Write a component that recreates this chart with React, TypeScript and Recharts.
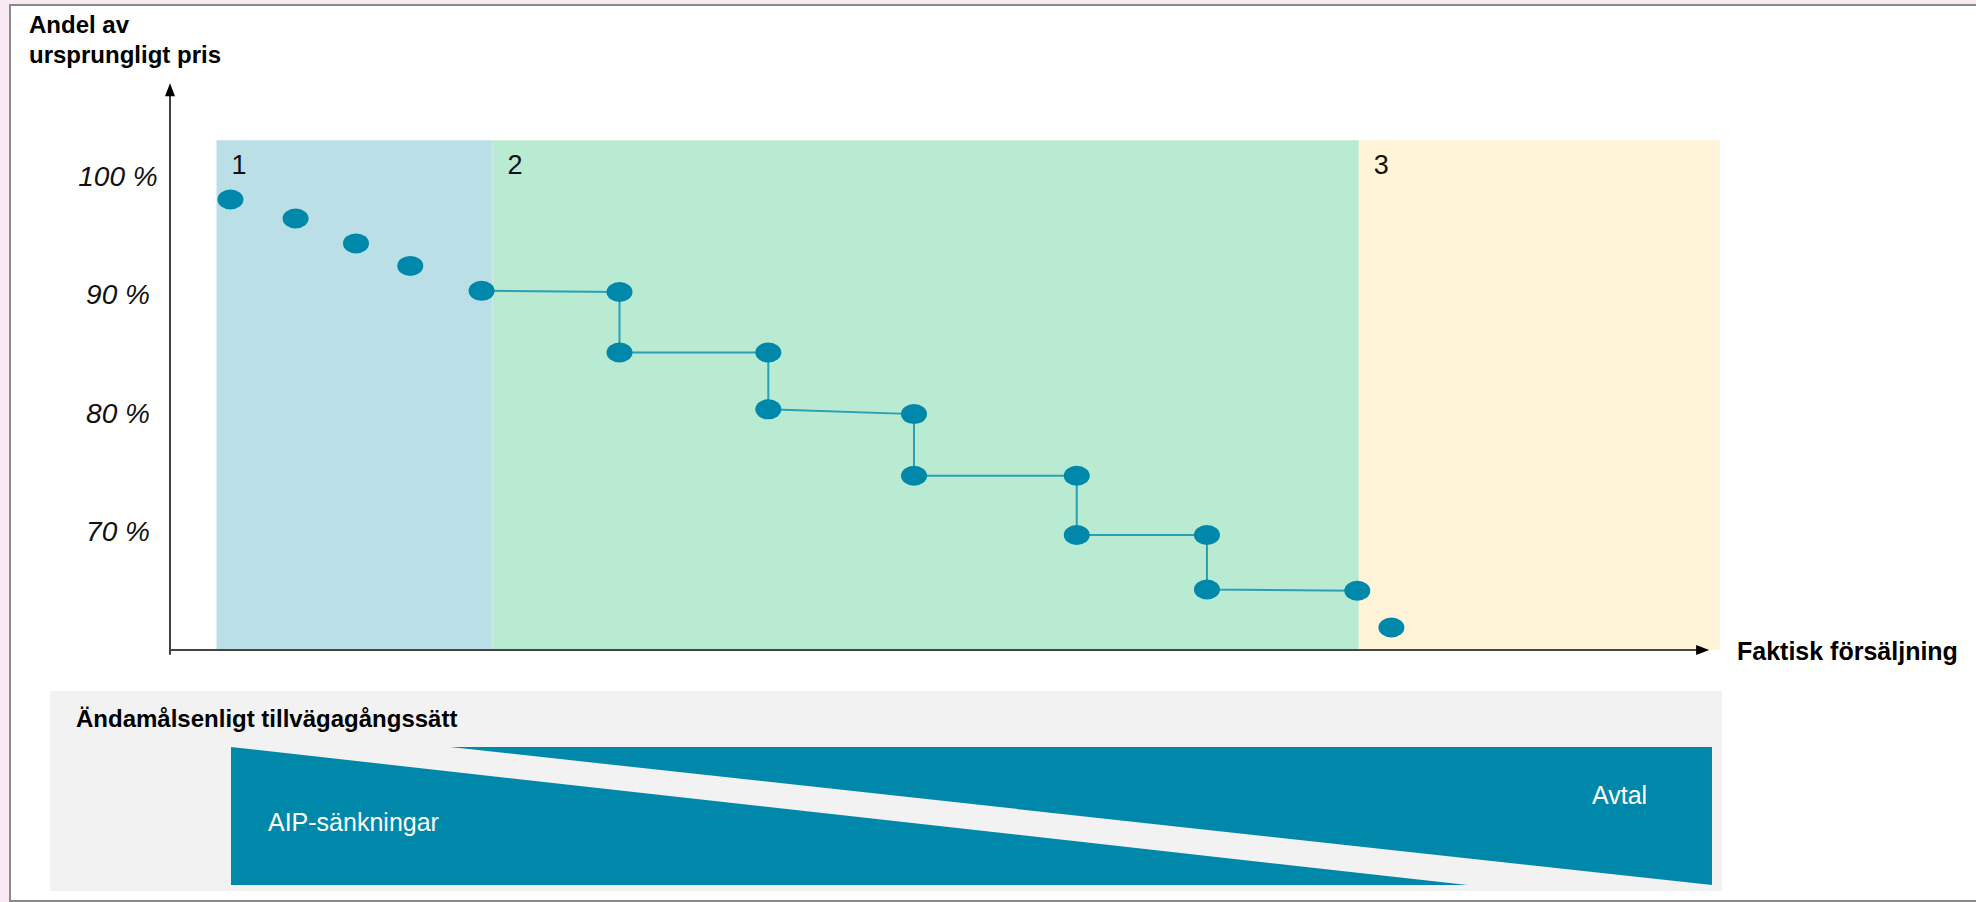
import React from 'react';
import {
  ComposedChart,
  Scatter,
  Line,
  Area,
  XAxis,
  YAxis,
  ReferenceArea,
  ReferenceLine,
  ReferenceDot,
} from 'recharts';

// Price as share of the original price (%) against actual sales (0–100 units)
const phaseNames = ['1', '2', '3'];
const phaseStart = [3.0, 20.8, 76.7];
const phaseEnd = [20.8, 76.7, 100];
const phaseTop = 103;

const yTicks = [70, 80, 90, 100];

// single price cuts before the stepped phase
const earlyDots = [
  { x: 3.9, y: 98.0 },
  { x: 8.1, y: 96.4 },
  { x: 12.0, y: 94.3 },
  { x: 15.5, y: 92.4 },
];

// stepped price path
const stepDots = [
  { x: 20.1, y: 90.3 },
  { x: 29.0, y: 90.2 },
  { x: 29.0, y: 85.1 },
  { x: 38.6, y: 85.1 },
  { x: 38.6, y: 80.3 },
  { x: 48.0, y: 79.9 },
  { x: 48.0, y: 74.7 },
  { x: 58.5, y: 74.7 },
  { x: 58.5, y: 69.7 },
  { x: 66.9, y: 69.7 },
  { x: 66.9, y: 65.1 },
  { x: 76.6, y: 65.0 },
];

const lateDots = [{ x: 78.8, y: 61.9 }];

// lower strip: how much each approach is used along the sales axis
const aipShare = [
  { x: 0, v: 100 },
  { x: 83.5, v: 0 },
];
const avtalShare = [
  { x: 14.8, v: [100, 100] },
  { x: 100, v: [0, 100] },
];

const phaseColors = ['#bbdfe7', '#b9ead2', '#fff4d8'];
const TEAL = '#0088aa';
const FONT = '"Liberation Sans", Arial, sans-serif';

const renderDot = (p: any) => (
  <ellipse cx={p.cx} cy={p.cy} rx={13} ry={10} fill={TEAL} />
);

const upArrow = (p: any) => (
  <path d={`M${p.cx},${p.cy} L${p.cx - 5},${p.cy + 13} L${p.cx + 5},${p.cy + 13} Z`} fill="#000" />
);

const rightArrow = (p: any) => (
  <path d={`M${p.cx},${p.cy} L${p.cx - 13},${p.cy - 5} L${p.cx - 13},${p.cy + 5} Z`} fill="#000" />
);

// percent tick, centred a little left of the axis
const PercentTick = (p: any) => (
  <text
    x={p.x}
    y={p.y}
    dy={10}
    textAnchor="middle"
    fontSize={28}
    fontStyle="italic"
    fontFamily={FONT}
    fill="#111"
  >
    {`${p.payload.value} %`}
  </text>
);

const textStyle: React.CSSProperties = {
  position: 'absolute',
  fontFamily: FONT,
  whiteSpace: 'nowrap',
  lineHeight: '30px',
};

export default function App() {
  return (
    <div
      style={{
        position: 'absolute',
        left: 0,
        top: 0,
        width: 1976,
        height: 902,
        background: '#f9e9f3',
        overflow: 'hidden',
        fontFamily: FONT,
      }}
    >
      <div
        style={{
          position: 'absolute',
          left: 9,
          top: 4,
          width: 1970,
          height: 894,
          background: '#fff',
          borderTop: '2px solid #8a8a8a',
          borderLeft: '2px solid #8a8a8a',
          borderBottom: '2px solid #8a8a8a',
        }}
      />

      <div style={{ ...textStyle, left: 29, top: 10, fontSize: 24, fontWeight: 700, color: '#000' }}>
        Andel av
        <br />
        ursprungligt pris
      </div>

      <div style={{ position: 'absolute', left: 0, top: 0 }}>
        <ComposedChart
          width={1976}
          height={690}
          margin={{ top: 81, right: 256, bottom: 40, left: 110 }}
        >
          <XAxis type="number" dataKey="x" domain={[0, 100]} allowDataOverflow hide />
          <YAxis
            type="number"
            dataKey="y"
            domain={[60, 108]}
            allowDataOverflow
            ticks={yTicks}
            interval={0}
            width={60}
            axisLine={false}
            tickLine={false}
            tickSize={0}
            tickMargin={52}
            tick={PercentTick}
          />
          {phaseNames.map((name, i) => (
            <ReferenceArea
              key={name}
              x1={phaseStart[i]}
              x2={phaseEnd[i]}
              y1={60}
              y2={phaseTop}
              fill={phaseColors[i]}
              fillOpacity={1}
              stroke="none"
              ifOverflow="visible"
              label={{
                value: name,
                position: 'insideTopLeft',
                offset: 15,
                fontSize: 27,
                fill: '#111',
                fontFamily: FONT,
              }}
            />
          ))}
          <ReferenceLine
            segment={[
              { x: 0, y: 59.6 },
              { x: 0, y: 107 },
            ]}
            stroke="#000"
            strokeWidth={1.5}
            ifOverflow="visible"
          />
          <ReferenceDot x={0} y={107.8} r={0} shape={upArrow} ifOverflow="visible" />
          <ReferenceLine
            segment={[
              { x: 0, y: 60 },
              { x: 98.6, y: 60 },
            ]}
            stroke="#444"
            strokeWidth={2.2}
            ifOverflow="visible"
          />
          <ReferenceDot x={99.3} y={60} r={0} shape={rightArrow} ifOverflow="visible" />
          <Line
            data={stepDots}
            dataKey="y"
            type="linear"
            stroke="#2aa0b5"
            strokeWidth={2}
            dot={false}
            activeDot={false}
            isAnimationActive={false}
          />
          <Scatter data={earlyDots} shape={renderDot} isAnimationActive={false} />
          <Scatter data={stepDots} shape={renderDot} isAnimationActive={false} />
          <Scatter data={lateDots} shape={renderDot} isAnimationActive={false} />
        </ComposedChart>
      </div>

      <div style={{ ...textStyle, left: 1737, top: 636, fontSize: 25, fontWeight: 700, color: '#000' }}>
        Faktisk försäljning
      </div>

      <div
        style={{
          position: 'absolute',
          left: 50,
          top: 691,
          width: 1672,
          height: 200,
          background: '#f2f2f2',
        }}
      />
      <div style={{ ...textStyle, left: 76, top: 704, fontSize: 24, fontWeight: 700, color: '#000' }}>
        Ändamålsenligt tillvägagångssätt
      </div>

      <div style={{ position: 'absolute', left: 0, top: 740 }}>
        <ComposedChart
          width={1976}
          height={150}
          margin={{ top: 7, right: 264, bottom: 5, left: 231 }}
        >
          <XAxis type="number" dataKey="x" domain={[0, 100]} allowDataOverflow hide />
          <YAxis type="number" domain={[0, 100]} allowDataOverflow hide width={0} />
          <Area
            data={aipShare}
            dataKey="v"
            type="linear"
            baseValue={0}
            stroke="none"
            fill={TEAL}
            fillOpacity={1}
            activeDot={false}
            isAnimationActive={false}
          />
          <Area
            data={avtalShare}
            dataKey="v"
            type="linear"
            stroke="none"
            fill={TEAL}
            fillOpacity={1}
            activeDot={false}
            isAnimationActive={false}
          />
        </ComposedChart>
      </div>

      <div style={{ ...textStyle, left: 268, top: 807, fontSize: 25, color: '#fff' }}>AIP-sänkningar</div>
      <div style={{ ...textStyle, left: 1592, top: 780, fontSize: 25, color: '#fff' }}>Avtal</div>
    </div>
  );
}
